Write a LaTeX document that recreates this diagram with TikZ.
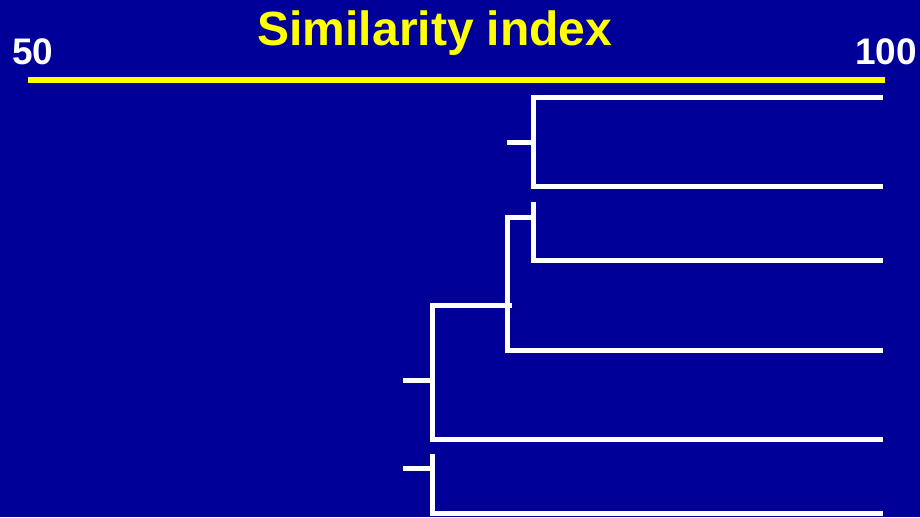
\documentclass[tikz,border=0pt]{standalone}
\usepackage{fontspec}
\setmainfont{Liberation Sans}
\usetikzlibrary{positioning}
\definecolor{slideblue}{RGB}{0,0,153}
\definecolor{titleyellow}{RGB}{255,255,0}
\begin{document}
\begin{tikzpicture}[x=1pt,y=-1pt]
  \tikzset{
    branch/.style={draw=white,line width=5pt},
    scalelabel/.style={white,inner sep=0pt,font=\bfseries\fontsize{37}{40}\selectfont},
  }
  %BACKGROUND
  \fill[slideblue] (0,0) rectangle (920,517);
  \clip (0,0) rectangle (920,517);
  %LABEL
  \node[titleyellow,inner sep=0pt,anchor=base,font=\bfseries\fontsize{48}{52}\selectfont] (title) at (435,45) {Similarity index};
  \node[scalelabel,anchor=base west] (lo) at (12,64) {50};
  \node[scalelabel,anchor=base east] (hi) at (917,64) {100};
  %AXIS
  \draw[titleyellow,line width=6pt] (28,80) -- (885,80);
  %LEAVES
  \foreach \y [count=\i] in {97,186,260,350,439,513}{
    \coordinate (l\i) at (883,\y);
  }
  %JOINS
  \coordinate (a) at (533,142);
  \coordinate (b) at (533,217);
  \coordinate (c) at (507,305);
  \coordinate (d) at (432,380);
  \coordinate (e) at (432,468);
  %CLUSTER 1
  \draw[branch] (l1) -| (a) |- (l2);
  \draw[branch] (a) -- ++(-26,0);
  %CLUSTER 2
  \draw[branch] ([yshift=15pt]b) |- (l3);
  \draw[branch] (b) -| (c) |- (l4);
  \draw[branch] ([xshift=5pt]c) -| (d) |- (l5);
  \draw[branch] (d) -- ++(-29,0);
  %CLUSTER 3
  \draw[branch] ([yshift=14pt]e) |- (l6);
  \draw[branch] (e) -- ++(-29,0);
\end{tikzpicture}
\end{document}
